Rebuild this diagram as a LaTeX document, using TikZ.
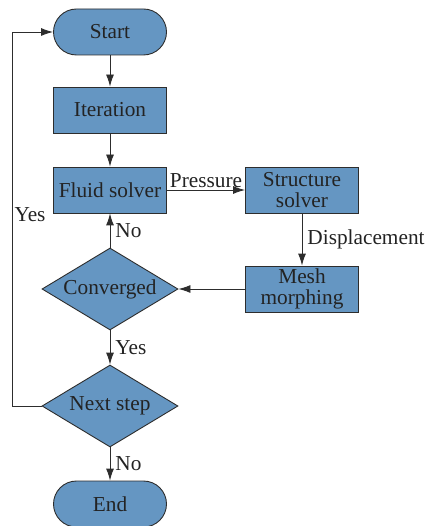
\documentclass[tikz,border=0pt]{standalone}
\usepackage{fontspec}
\setmainfont{Liberation Serif}
\usetikzlibrary{shapes.geometric,arrows.meta}
\definecolor{boxfill}{RGB}{101,150,194}
\definecolor{edge}{RGB}{45,45,45}
\definecolor{txt}{RGB}{35,35,35}
\tikzset{
  base/.style={draw=edge,line width=0.9pt,fill=boxfill,text=txt,inner sep=0pt,
    font=\fontsize{21.3}{21}\selectfont,align=center},
  procbox/.style={base,rectangle,minimum width=113pt,minimum height=46pt},
  termbox/.style={base,rectangle,rounded corners=23pt,minimum width=113pt,minimum height=46pt},
  decbox/.style={base,diamond,aspect=1.65,minimum width=136pt,minimum height=82pt},
  conn/.style={draw=edge,line width=0.9pt,-{Latex[length=12pt,width=8pt]}},
  lab/.style={text=txt,font=\fontsize{21.3}{21}\selectfont,inner sep=2pt}
}
\begin{document}
\begin{tikzpicture}[x=1pt,y=-1pt]
\useasboundingbox (0,0) rectangle (429,526);
\node[termbox] (start) at (110,32) {Start};
\node[procbox] (iter) at (110,110) {Iteration};
\node[procbox] (fluid) at (110,190) {Fluid solver};
\node[procbox] (struct) at (302,190) {Structure\\solver};
\node[procbox] (mesh) at (302,289) {Mesh\\morphing};
\node[decbox] (conv) at (110,289) {Converged};
\node[decbox] (next) at (110,406) {Next step};
\node[termbox] (end) at (110,504) {End};
\coordinate (lc) at (12,406);
\draw[conn] (start) -- (iter);
\draw[conn] (iter) -- (fluid);
\draw[conn] (fluid) -- node[lab,above=0pt] {Pressure} (struct);
\draw[conn] (struct) -- node[lab,right=3pt] {Displacement} (mesh);
\draw[conn] (mesh) -- (conv);
\draw[conn] (conv) -- node[lab,right=3pt] {No} (fluid);
\draw[conn] (conv) -- node[lab,right=3pt] {Yes} (next);
\draw[conn] (next) -- node[lab,right=3pt] {No} (end);
\draw[conn] (next.west) -- (lc) |- (start.west);
\node[lab] (yesl) at (30,215) {Yes};
\end{tikzpicture}
\end{document}
